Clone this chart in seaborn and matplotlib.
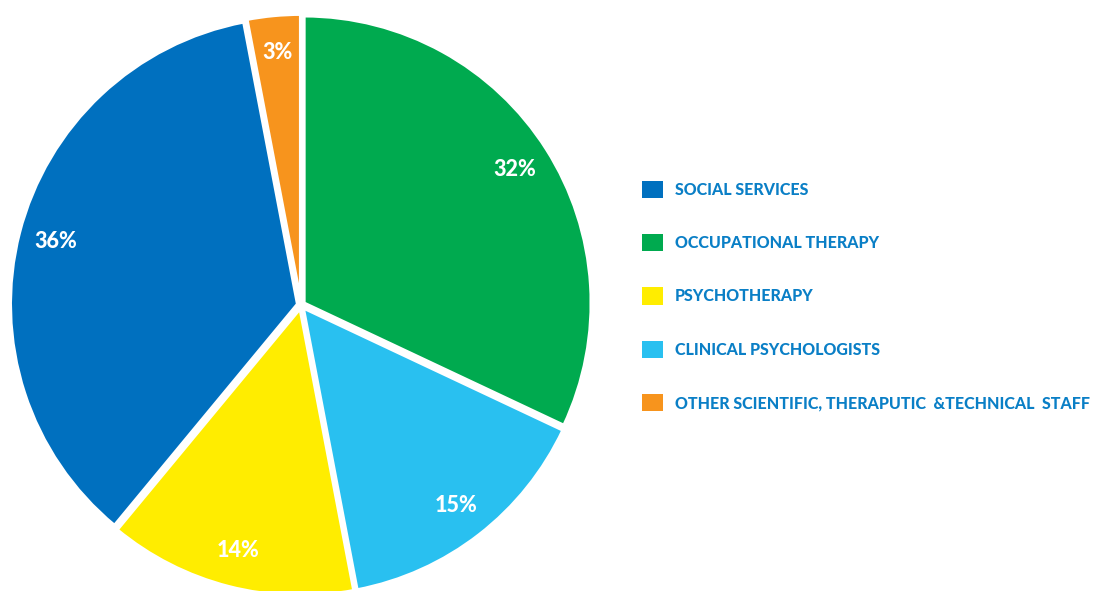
import matplotlib
matplotlib.use("Agg")
import matplotlib.pyplot as plt
from matplotlib.patches import Patch
import seaborn as sns

categories = ["SOCIAL SERVICES", "OCCUPATIONAL THERAPY", "PSYCHOTHERAPY",
              "CLINICAL PSYCHOLOGISTS", "OTHER SCIENTIFIC, THERAPUTIC  &TECHNICAL  STAFF"]
shares = [36, 32, 14, 15, 3]
colors = ["#0070bf", "#00aa4f", "#ffed00", "#29c0f0", "#f7941d"]

# clockwise from 12 o'clock: occupational, clinical, psycho, social, other
pie_order = [1, 3, 2, 0, 4]

sns.set_theme(style="white")
plt.rcParams["font.family"] = ["Lato", "DejaVu Sans"]

fig = plt.figure(figsize=(11.02, 5.91), dpi=100)
ax = fig.add_axes([5 / 1102, -10 / 591, 592 / 1102, 592 / 591])

wedges, texts = ax.pie(
    [shares[i] for i in pie_order],
    colors=[colors[i] for i in pie_order],
    startangle=90, counterclock=False,
    explode=[0.012] * 5,
    wedgeprops=dict(edgecolor="white", linewidth=2.5),
    labels=[f"{shares[i]}%" for i in pie_order],
    labeldistance=0.87,
    textprops=dict(color="white", fontsize=15.5, fontweight=900,
                   family=["Lato", "DejaVu Sans"]),
)
for t in texts:
    t.set_horizontalalignment("center")
    t.set_verticalalignment("center")
ax.set_xlim(-1.03, 1.03)
ax.set_ylim(-1.03, 1.03)
ax.set_aspect("equal")
ax.axis("off")

handles = [Patch(facecolor=c, edgecolor="none") for c in colors]
leg = fig.legend(handles, categories, loc="center left",
                 bbox_to_anchor=(628 / 1102, 295 / 591), frameon=False,
                 handlelength=1.3, handleheight=1.3, handletextpad=0.75,
                 labelspacing=2.25, prop=dict(family="Lato", weight=900, size=11.5))
for t in leg.get_texts():
    t.set_color("#0a7fc6")

fig.savefig("out.png", dpi=100)
